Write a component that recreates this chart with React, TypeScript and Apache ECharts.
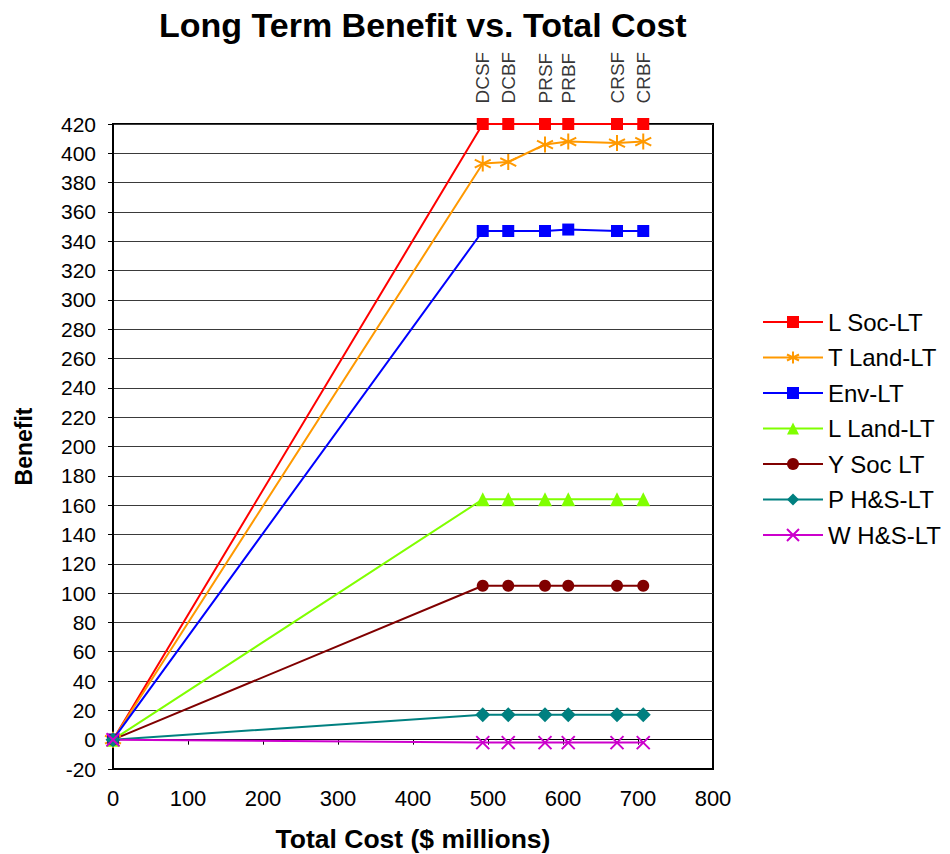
import React, { useEffect, useRef } from "react";
import * as echarts from "echarts";

const scenarioNames = ["DCSF", "DCBF", "PRSF", "PRBF", "CRSF", "CRBF"];
const totalCost = [0, 493, 527, 576, 607, 672, 707];
const lSocLT = [0, 420, 420, 420, 420, 420, 420];
const tLandLT = [0, 393, 394, 406, 408, 407, 408];
const envLT = [0, 347, 347, 347, 348, 347, 347];
const lLandLT = [0, 164, 164, 164, 164, 164, 164];
const ySocLT = [0, 105, 105, 105, 105, 105, 105];
const pHSLT = [0, 17, 17, 17, 17, 17, 17];
const wHSLT = [0, -2, -2, -2, -2, -2, -2];
const seriesNames = ["L Soc-LT", "T Land-LT", "Env-LT", "L Land-LT", "Y Soc LT", "P H&S-LT", "W H&S-LT"];

const FONT = "'Liberation Sans', Arial, sans-serif";
const ASTERISK = "path://M5,0L5,10M0.7,2.5L9.3,7.5M0.7,7.5L9.3,2.5";
const XMARK = "path://M0,0L10,10M10,0L0,10";

export default function App() {
  const ref = useRef<HTMLDivElement>(null);
  useEffect(() => {
    const chart = echarts.init(ref.current!, null, { renderer: "svg" });
    const pair = (ys: number[]) => totalCost.map((x, i) => [x, ys[i]]);
    const mk = (name: string, ys: number[], color: string, symbol: string, size: number, stroke = false) => ({
      name,
      type: "line",
      data: pair(ys),
      symbol,
      symbolSize: size,
      showSymbol: true,
      clip: false,
      lineStyle: { color, width: 2 },
      itemStyle: stroke
        ? { color, borderColor: color, borderWidth: 2 }
        : { color, borderWidth: 0 },
      emphasis: { disabled: true },
    });
    chart.setOption({
      animation: false,
      textStyle: { fontFamily: FONT },
      title: {
        text: "Long Term Benefit vs. Total Cost",
        left: 154,
        top: 3,
        textStyle: { fontFamily: FONT, fontSize: 34, fontWeight: "bold", color: "#000" },
      },
      legend: {
        orient: "vertical",
        left: 762,
        top: 310,
        padding: 0,
        itemWidth: 60,
        itemHeight: 15,
        itemGap: 11.5,
        data: seriesNames,
        textStyle: { fontFamily: FONT, fontSize: 24, color: "#000", lineHeight: 24 },
        selectedMode: false,
      },
      grid: {
        left: 113,
        right: 237,
        top: 124,
        bottom: 85,
        show: true,
        borderColor: "#000",
        borderWidth: 2,
        containLabel: false,
        outerBoundsMode: "none",
      },
      xAxis: [
        {
          type: "value",
          min: 0,
          max: 800,
          interval: 100,
          position: "bottom",
          axisLine: { onZero: false, lineStyle: { color: "#000", width: 2 } },
          axisTick: { show: false },
          splitLine: { show: false },
          axisLabel: { fontFamily: FONT, fontSize: 22, color: "#000", margin: 18 },
          name: "Total Cost ($ millions)",
          nameLocation: "middle",
          nameGap: 57,
          nameTextStyle: { fontFamily: FONT, fontSize: 26.5, fontWeight: "bold", color: "#000", lineHeight: 26 },
        },
        {
          type: "value",
          min: 0,
          max: 800,
          interval: 100,
          position: "top",
          axisLine: { show: true, onZero: true, onZeroAxisIndex: 0, lineStyle: { color: "#000", width: 1 } },
          axisTick: { show: true, inside: true, length: 5, lineStyle: { color: "#000" } },
          axisLabel: { show: false },
          splitLine: { show: false },
        },
      ],
      yAxis: {
        type: "value",
        min: -20,
        max: 420,
        interval: 20,
        axisLine: { show: true, onZero: false, lineStyle: { color: "#000", width: 2 } },
        axisTick: { show: true, length: 5, lineStyle: { color: "#000" } },
        splitLine: { show: true, lineStyle: { color: "#3a3a3a", width: 1 } },
        axisLabel: { fontFamily: FONT, fontSize: 21, color: "#000", margin: 17 },
        name: "Benefit",
        nameLocation: "middle",
        nameGap: 78,
        nameTextStyle: { fontFamily: FONT, fontSize: 23, fontWeight: "bold", color: "#000" },
      },
      series: [
        mk(seriesNames[0], lSocLT, "#FF0000", "rect", 12),
        mk(seriesNames[1], tLandLT, "#FF9900", ASTERISK, 16, true),
        mk(seriesNames[2], envLT, "#0000FF", "rect", 12),
        mk(seriesNames[3], lLandLT, "#80FF00", "triangle", 14),
        mk(seriesNames[4], ySocLT, "#800000", "circle", 12),
        mk(seriesNames[5], pHSLT, "#008080", "diamond", 15),
        mk(seriesNames[6], wHSLT, "#CC00CC", XMARK, 13, true),
        {
          name: "scenarios",
          type: "scatter",
          data: scenarioNames.map((n, i) => ({ value: [totalCost[i + 1], lSocLT[i + 1]], name: n })),
          symbolSize: 1,
          itemStyle: { color: "transparent" },
          silent: true,
          clip: false,
          z: 1,
          label: {
            show: true,
            position: "top",
            distance: 20,
            rotate: 90,
            align: "left",
            verticalAlign: "middle",
            formatter: (p: any) => p.name,
            fontFamily: FONT,
            fontSize: 19,
            color: "#000",
          },
        },
      ],
    });
    return () => chart.dispose();
  }, []);
  return (
    <div
      ref={ref}
      style={{ position: "fixed", left: 0, top: 0, width: 950, height: 854, background: "#fff" }}
    />
  );
}
